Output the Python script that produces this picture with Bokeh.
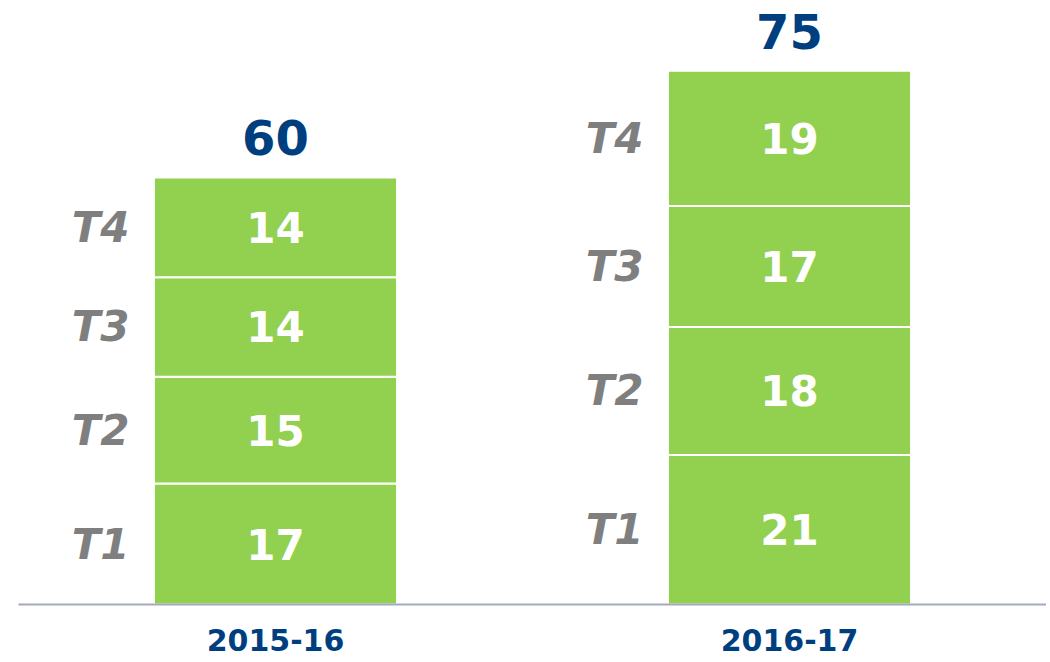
from bokeh.plotting import figure
from bokeh.models import Range1d, FactorRange, ColumnDataSource
from bokeh.core.properties import value
from bokeh.embed import file_html
from bokeh.resources import INLINE

years = ["2015-16", "2016-17"]
quarters = ["T1", "T2", "T3", "T4"]
t1 = [17, 21]
t2 = [15, 18]
t3 = [14, 17]
t4 = [14, 19]
totals = [60, 75]

GREEN = "#92D050"
BLUE = "#003F7F"
GREY = "#7F7F7F"
FONT = "DejaVu Sans"

p = figure(width=1046, height=658, x_range=FactorRange(*years, range_padding=0),
           y_range=Range1d(0, 84.87), output_backend="svg", toolbar_location=None,
           min_border_left=18, min_border_right=0, min_border_top=0, min_border_bottom=54)
p.outline_line_color = None
p.grid.visible = False
p.yaxis.visible = False
p.background_fill_color = "white"

series = [t1, t2, t3, t4]
xs, bottoms, tops, vals, mids, qlabels = [], [], [], [], [], []
for i, y in enumerate(years):
    base = 0
    for q, s in zip(quarters, series):
        xs.append(y)
        bottoms.append(base)
        tops.append(base + s[i])
        vals.append(str(s[i]))
        mids.append(base + s[i] / 2)
        qlabels.append(q)
        base += s[i]

src = ColumnDataSource(dict(x=xs, bottom=bottoms, top=tops, val=vals, mid=mids, q=qlabels))
p.vbar(x="x", bottom="bottom", top="top", width=0.473, source=src,
       fill_color=GREEN, line_color="white", line_width=2)
p.text(x="x", y="mid", text="val", source=src, text_align="center", text_baseline="middle",
       text_color="white", text_font=value(FONT), text_font_style="bold", text_font_size="42px")
p.text(x="x", y="mid", text="q", source=src, text_align="right", text_baseline="middle",
       x_offset=-146, text_color=GREY, text_font=value(FONT), text_font_style="bold italic",
       text_font_size="42px")

tsrc = ColumnDataSource(dict(x=years, y=totals, t=[str(v) for v in totals]))
p.text(x="x", y="y", text="t", source=tsrc, text_align="center", text_baseline="bottom",
       y_offset=-22, text_color=BLUE, text_font=value(FONT), text_font_style="bold",
       text_font_size="48px")

ax = p.xaxis[0]
ax.axis_line_color = "#A3AABD"
ax.axis_line_width = 2
ax.major_tick_line_color = None
ax.minor_tick_line_color = None
ax.major_label_standoff = 18
ax.major_label_text_font = FONT
ax.major_label_text_font_style = "bold"
ax.major_label_text_font_size = "30px"
ax.major_label_text_color = BLUE

open("out.html", "w").write(file_html(p, INLINE))
